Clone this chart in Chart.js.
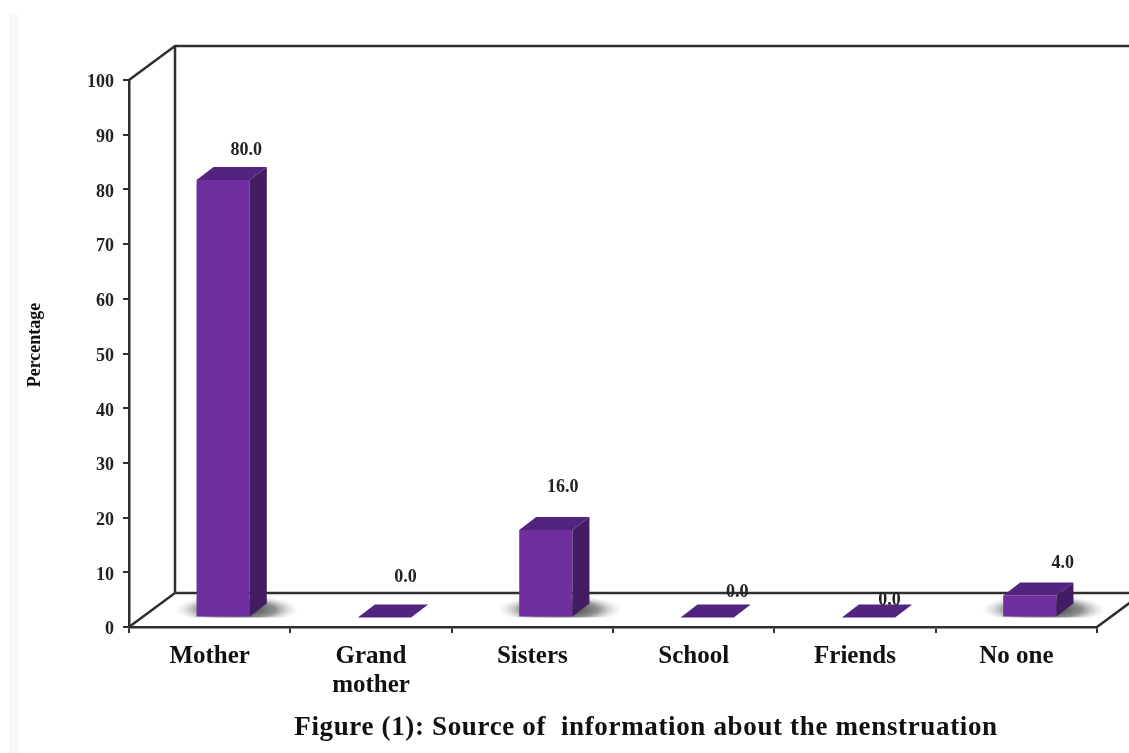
<!DOCTYPE html>
<html>
<head>
<meta charset="utf-8">
<title>Figure (1)</title>
<script src="https://cdn.jsdelivr.net/npm/chart.js@4"></script>
<style>
  html, body { margin: 0; padding: 0; background: #fff; }
  #strip { position: absolute; left: 9px; top: 14px; width: 9px; height: 739px; background: #f7f7f7; }
  #wrap { position: absolute; left: 0; top: 0; width: 1129px; height: 753px; overflow: hidden; }
</style>
</head>
<body>
<div id="strip"></div>
<div id="wrap"><canvas id="chart" width="1129" height="753"></canvas></div>
<script>
const categories = [['Mother'], ['Grand', 'mother'], ['Sisters'], ['School'], ['Friends'], ['No one']];
const percentages = [80.0, 0.0, 16.0, 0.0, 0.0, 4.0];
const yTicks = [0, 10, 20, 30, 40, 50, 60, 70, 80, 90, 100];
const yTitle = 'Percentage';
const caption = 'Figure (1): Source of  information about the menstruation';

const ink = '#2e2e2e';
const serif = '"Liberation Serif", serif';

// the 3D look: bars sit part way back on the floor
const wallDepth = { x: 46, y: -34 };
const barShift = { x: 13.5, y: -9.5 };
const barDepth = { x: 17, y: -13 };
// labels in the original were hand placed, offset from the top of each bar
const labelNudge = [[23, -30], [21, -40], [17, -43], [30, -25], [21, -17], [33, -32]];

const box3d = {
    id: 'box3d',
    beforeDatasetsDraw(chart) {
        const { ctx, chartArea: a } = chart;
        // back wall and floor
        ctx.save();
        ctx.strokeStyle = ink;
        ctx.lineWidth = 2.5;
        ctx.beginPath();
        ctx.moveTo(a.left, a.top);
        ctx.lineTo(a.left + wallDepth.x, a.top + wallDepth.y);
        ctx.lineTo(a.right + wallDepth.x, a.top + wallDepth.y);
        ctx.moveTo(a.left + wallDepth.x, a.top + wallDepth.y);
        ctx.lineTo(a.left + wallDepth.x, a.bottom + wallDepth.y);
        ctx.lineTo(a.right + wallDepth.x, a.bottom + wallDepth.y);
        ctx.lineTo(a.right, a.bottom);
        ctx.moveTo(a.left + wallDepth.x, a.bottom + wallDepth.y);
        ctx.lineTo(a.left, a.bottom);
        ctx.stroke();
        ctx.restore();

        // soft shadows on the floor behind the bars that have height
        const floorY = chart.scales.y.getPixelForValue(0) + barShift.y;
        chart.getDatasetMeta(0).data.forEach((bar, i) => {
            if (!percentages[i]) return;
            const cx = bar.x + barShift.x + 14;
            ctx.save();
            ctx.beginPath();
            ctx.rect(cx - 100, floorY - 24, 200, 24);
            ctx.clip();
            ctx.translate(cx, floorY - 8);
            ctx.scale(1, 0.24);
            const g = ctx.createRadialGradient(0, 0, 10, 0, 0, 62);
            g.addColorStop(0, 'rgba(50,50,50,0.95)');
            g.addColorStop(0.55, 'rgba(100,100,100,0.7)');
            g.addColorStop(1, 'rgba(200,200,200,0)');
            ctx.fillStyle = g;
            ctx.beginPath();
            ctx.arc(0, 0, 62, 0, Math.PI * 2);
            ctx.fill();
            ctx.restore();
        });
    },
    beforeDatasetDraw(chart) {
        chart.ctx.save();
        chart.ctx.translate(barShift.x, barShift.y);
    },
    afterDatasetDraw(chart) {
        chart.ctx.restore();
    },
    afterDatasetsDraw(chart) {
        const { ctx } = chart;
        chart.getDatasetMeta(0).data.forEach((bar, i) => {
            const l = bar.x - bar.width / 2 + barShift.x;
            const r = bar.x + bar.width / 2 + barShift.x;
            const t = bar.y + barShift.y;
            const b = bar.base + barShift.y;
            const dx = barDepth.x, dy = barDepth.y;
            ctx.fillStyle = '#52237f';
            ctx.beginPath();
            ctx.moveTo(l, t);
            ctx.lineTo(l + dx, t + dy);
            ctx.lineTo(r + dx, t + dy);
            ctx.lineTo(r, t);
            ctx.closePath();
            ctx.fill();
            if (b > t) {
                ctx.fillStyle = '#421d63';
                ctx.beginPath();
                ctx.moveTo(r, t);
                ctx.lineTo(r + dx, t + dy);
                ctx.lineTo(r + dx, b + dy);
                ctx.lineTo(r, b);
                ctx.closePath();
                ctx.fill();
            }
            // value label
            ctx.fillStyle = '#222';
            ctx.font = 'bold 18px ' + serif;
            ctx.textAlign = 'center';
            ctx.textBaseline = 'middle';
            ctx.fillText(percentages[i].toFixed(1), (l + r) / 2 + labelNudge[i][0], t + labelNudge[i][1]);
        });

        // caption sits off centre and the axis title above centre, so neither can use the built in placement
        ctx.save();
        ctx.fillStyle = '#111';
        ctx.font = 'bold 27px ' + serif;
        ctx.letterSpacing = '0.65px';
        ctx.textAlign = 'center';
        ctx.textBaseline = 'middle';
        ctx.fillText(caption, 646, 728);
        ctx.restore();

        ctx.save();
        ctx.fillStyle = '#111';
        ctx.font = 'bold 18px ' + serif;
        ctx.textAlign = 'center';
        ctx.textBaseline = 'middle';
        ctx.translate(35, 345);
        ctx.rotate(-Math.PI / 2);
        ctx.fillText(yTitle, 0, 0);
        ctx.restore();
    }
};

new Chart(document.getElementById('chart'), {
    type: 'bar',
    data: {
        labels: categories,
        datasets: [{
            label: yTitle,
            data: percentages,
            backgroundColor: '#6f2f9f',
            borderWidth: 0,
            barPercentage: 0.33,
            categoryPercentage: 1
        }]
    },
    options: {
        responsive: false,
        animation: false,
        layout: { padding: { left: 26, right: 32, top: 80, bottom: 51 } },
        plugins: {
            legend: { display: false },
            tooltip: { enabled: false }
        },
        scales: {
            x: {
                afterFit(scale) { scale.height = 75; },
                border: { color: ink, width: 2.5 },
                grid: { drawOnChartArea: false, color: ink, tickLength: 6, lineWidth: 2 },
                ticks: {
                    color: '#111',
                    padding: 9,
                    maxRotation: 0,
                    font: { family: serif, size: 25, weight: 'bold', lineHeight: 1.16 }
                }
            },
            y: {
                min: yTicks[0],
                max: yTicks[yTicks.length - 1],
                afterFit(scale) { scale.width = 103; },
                afterBuildTicks(scale) { scale.ticks = yTicks.map(v => ({ value: v })); },
                border: { color: ink, width: 2.5 },
                grid: { drawOnChartArea: false, color: ink, tickLength: 6, lineWidth: 2 },
                ticks: {
                    color: '#222',
                    padding: 9,
                    // empty first line pushes the number a little below its tick, as in the original
                    callback: v => ['', String(v)],
                    font: { family: serif, size: 18, weight: 'bold', lineHeight: 0.3 }
                }
            }
        }
    },
    plugins: [box3d]
});
</script>
</body>
</html>
